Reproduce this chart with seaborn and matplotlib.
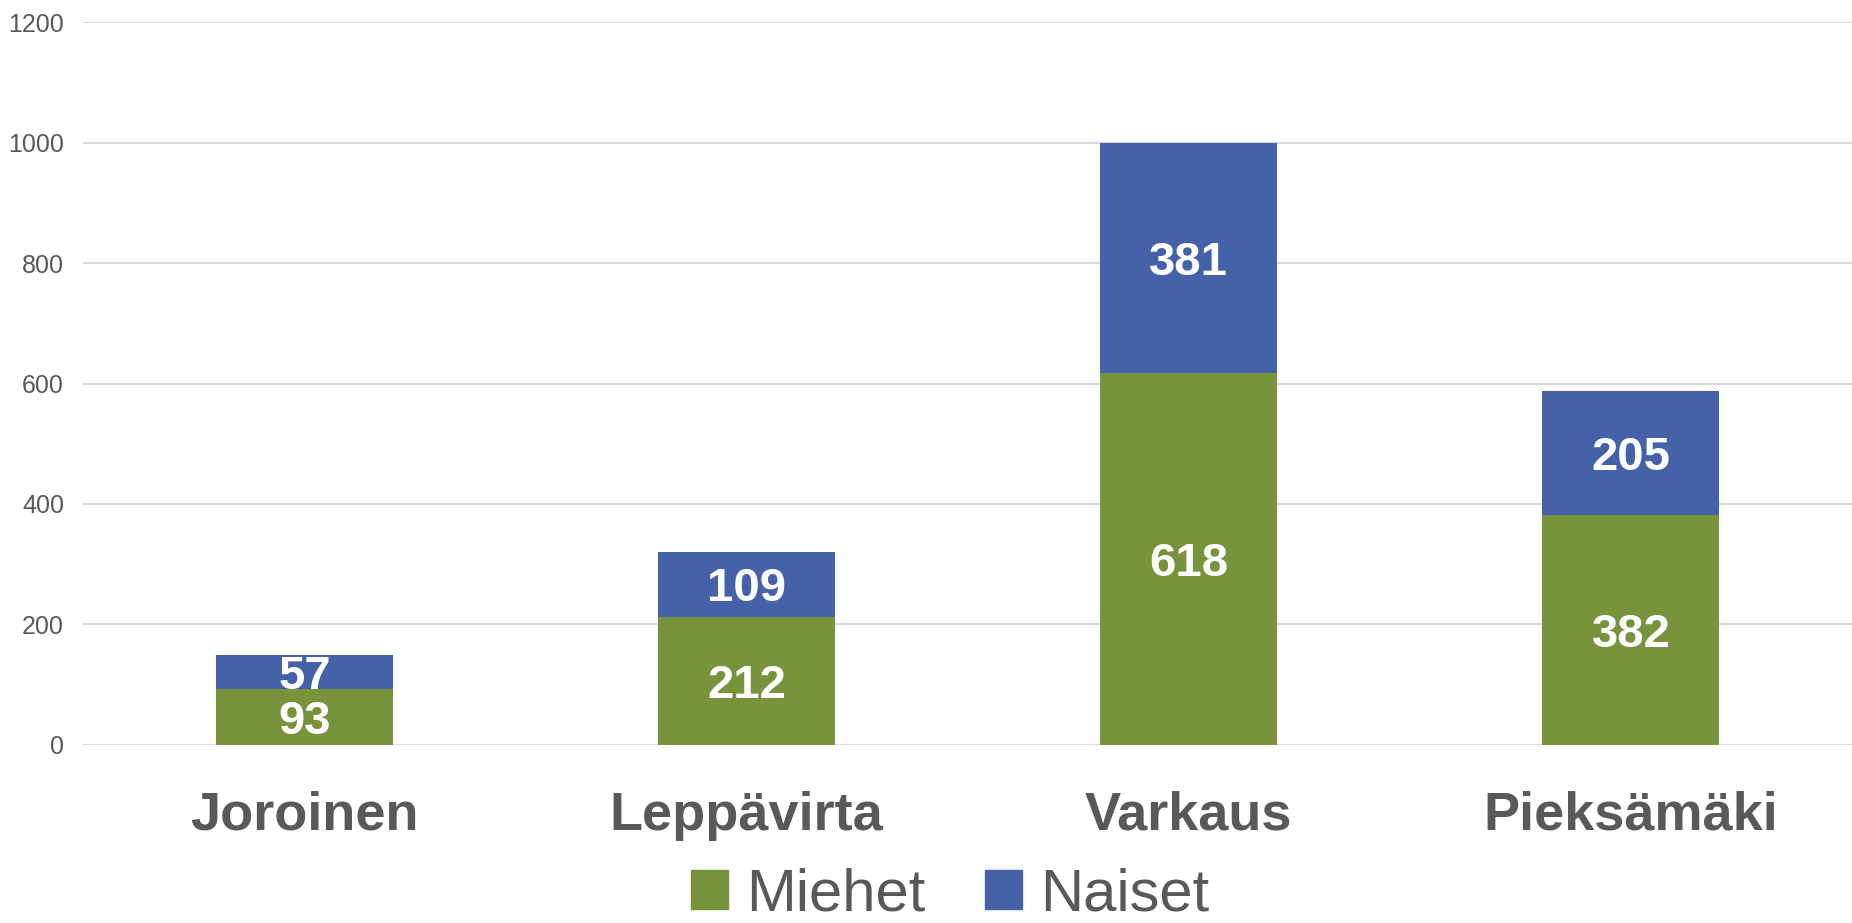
import matplotlib
matplotlib.use("Agg")
import matplotlib.pyplot as plt
import seaborn as sns
import pandas as pd
import numpy as np
from matplotlib.patches import Patch

# data
kunnat = ["Joroinen", "Leppävirta", "Varkaus", "Pieksämäki"]
miehet = [93, 212, 618, 382]
naiset = [57, 109, 381, 205]

vihrea = "#77933C"
sininen = "#4561A8"
harmaa = "#595959"

df = pd.DataFrame({"Kunta": kunnat, "Miehet": miehet, "Naiset": naiset})
df["Yht"] = df["Miehet"] + df["Naiset"]

sns.set_style("white")
plt.rcParams["font.family"] = ["Liberation Sans", "DejaVu Sans"]

fig = plt.figure(figsize=(18.52, 9.23), dpi=100)
ax = fig.add_axes([0.045, 0.193, 0.955, 0.783])

# pinotut palkit: ensin summa (sininen), sitten miehet päälle
sns.barplot(data=df, x="Kunta", y="Yht", color=sininen, width=0.4,
            saturation=1, linewidth=0, ax=ax, zorder=3)
sns.barplot(data=df, x="Kunta", y="Miehet", color=vihrea, width=0.4,
            saturation=1, linewidth=0, ax=ax, zorder=3)

# arvot palkkien keskelle
for i, (m, n) in enumerate(zip(miehet, naiset)):
    ax.text(i, m / 2, str(m), ha="center", va="center_baseline", color="white",
            fontsize=34, fontweight="bold", zorder=4)
    ax.text(i, m + n / 2, str(n), ha="center", va="center_baseline", color="white",
            fontsize=34, fontweight="bold", zorder=4)

ax.set_ylim(0, 1200)
ax.set_xlim(-0.5, 3.5)
ax.set_yticks(range(0, 1201, 200))
ax.yaxis.grid(True, color="#D9D9D9", lw=1.5, zorder=0)
for s in ax.spines.values():
    s.set_visible(False)
ax.tick_params(axis="y", length=0, labelsize=18, labelcolor=harmaa, pad=14)
ax.tick_params(axis="x", length=0, labelsize=39, labelcolor=harmaa, pad=33)
for t in ax.get_xticklabels():
    t.set_fontweight("bold")
ax.set_xlabel("")
ax.set_ylabel("")

handles = [Patch(color=vihrea, label="Miehet"), Patch(color=sininen, label="Naiset")]
leg = fig.legend(handles=handles, loc="center", bbox_to_anchor=(0.513, 0.03),
                 ncol=2, frameon=False, fontsize=43, handlelength=0.62,
                 handleheight=0.62, handletextpad=0.3, columnspacing=1.0,
                 borderpad=0)
for t in leg.get_texts():
    t.set_color(harmaa)

plt.savefig("out.png", dpi=100)
